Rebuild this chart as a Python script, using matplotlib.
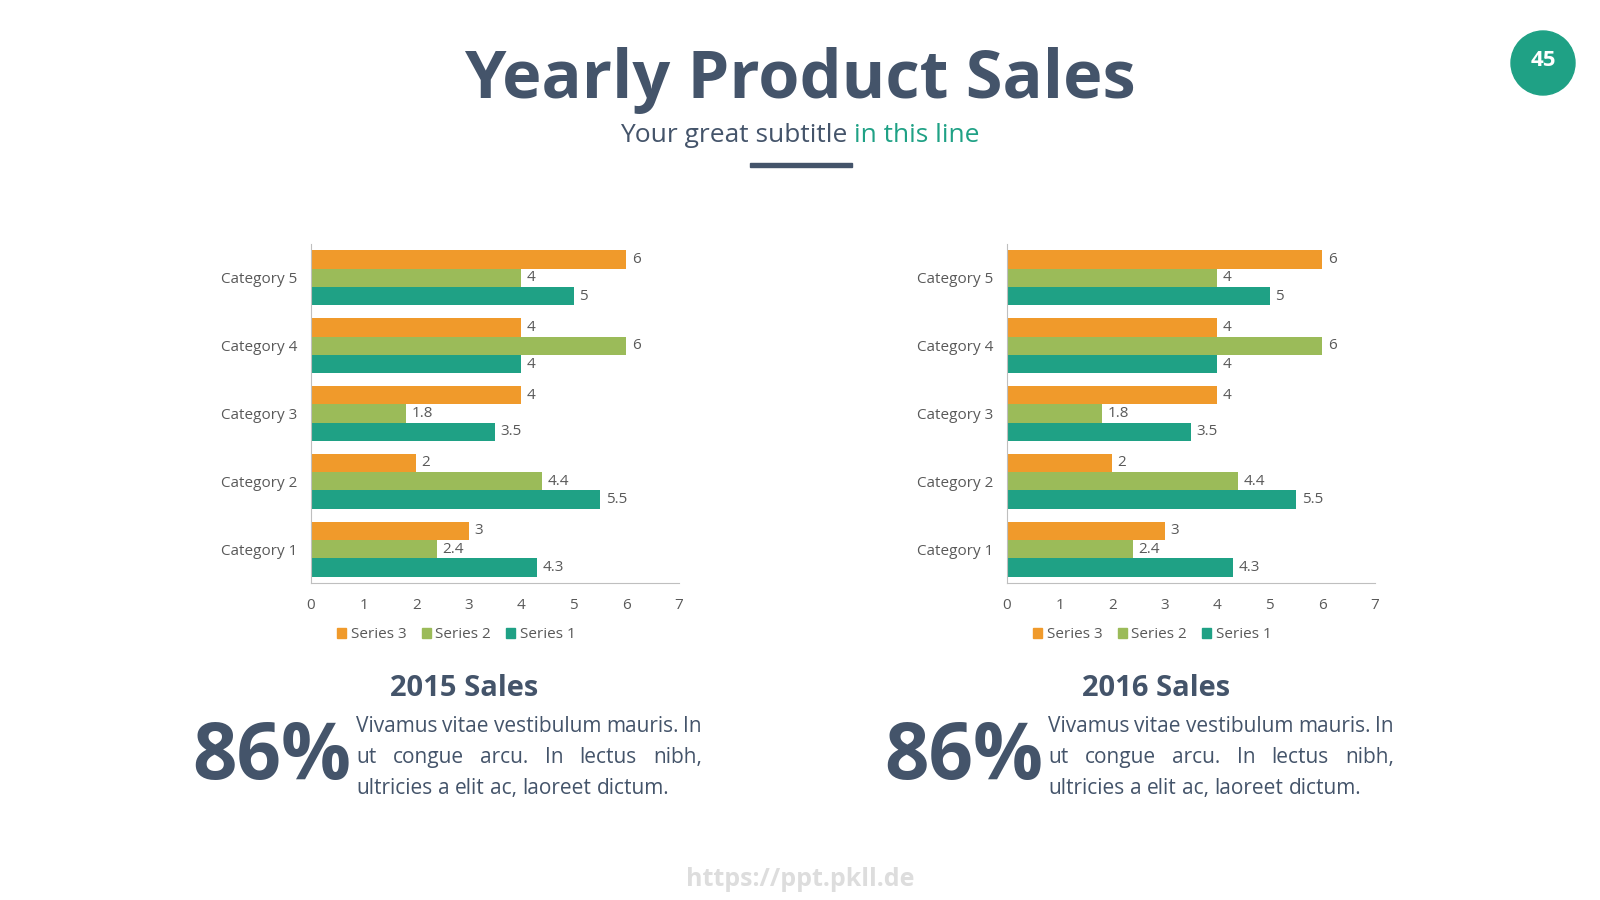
import numpy as np
import matplotlib
matplotlib.use("Agg")
import matplotlib.pyplot as plt
from matplotlib.patches import Circle, Rectangle

plt.rcParams['font.family'] = ['Open Sans', 'DejaVu Sans']

# data
categories = ['Category 1', 'Category 2', 'Category 3', 'Category 4', 'Category 5']
series1 = [4.3, 5.5, 3.5, 4, 5]
series2 = [2.4, 4.4, 1.8, 6, 4]
series3 = [3, 2, 4, 4, 6]
series_names = ['Series 1', 'Series 2', 'Series 3']
xticks = [0, 1, 2, 3, 4, 5, 6, 7]
panel_titles = ['2015 Sales', '2016 Sales']
panel_pct = ['86%', '86%']
body_lines = [['Vivamus', 'vitae', 'vestibulum', 'mauris.', 'In'],
              ['ut', 'congue', 'arcu.', 'In', 'lectus', 'nibh,'],
              ['ultricies', 'a', 'elit', 'ac,', 'laoreet', 'dictum.']]

DARK = '#44546A'
TEAL = '#1FA185'
GREEN = '#9BBB59'
ORANGE = '#F09A2B'
GRAY = '#595959'

W, H = 1600, 900
fig = plt.figure(figsize=(16, 9), dpi=100)
fig.patch.set_facecolor('white')


def fx(px):
    return px / W


def fy(py):
    return 1 - py / H


# header
fig.text(fx(800), fy(80), 'Yearly Product Sales', ha='center', va='center',
         fontsize=48, fontweight='bold', color=DARK)
t1 = fig.text(fx(800), fy(136), 'Your great subtitle ', ha='right', va='center',
              fontsize=19, color=DARK)
fig.canvas.draw()
r = fig.canvas.get_renderer()
w1 = t1.get_window_extent(r).width
t2 = fig.text(fx(800), fy(136), 'in this line', ha='left', va='center',
              fontsize=19, color=TEAL)
w2 = t2.get_window_extent(r).width
shift = (w1 - w2) / 2
t1.set_x(fx(800 + shift))
t2.set_x(fx(800 + shift))
fig.patches.append(Rectangle((fx(750), fy(167)), fx(102), 4 / H, transform=fig.transFigure,
                             color=DARK, figure=fig))

# page number badge
badge = Circle((15.43, (H - 63) / 100), 0.32, transform=fig.dpi_scale_trans,
               color=TEAL, figure=fig)
fig.patches.append(badge)
fig.text(fx(1543), fy(61), '45', ha='center', va='center', fontsize=16,
         fontweight='bold', color='white')


def draw_chart(left_px):
    ax = fig.add_axes([fx(left_px), fy(583), fx(368), 339 / H])
    y = np.arange(len(categories))
    h = 0.27
    for vals, off, col in [(series1, -h, TEAL), (series2, 0, GREEN), (series3, h, ORANGE)]:
        bars = ax.barh(y + off, vals, height=h, color=col)
        for b, v in zip(bars, vals):
            ax.annotate(f'{v:g}', (v, b.get_y() + h / 2), xytext=(4, 0),
                        textcoords='offset points', ha='left', va='center',
                        fontsize=11, color=GRAY,
                        bbox=dict(boxstyle='square,pad=0.05', fc='white', ec='none'))
    ax.set_xlim(0, 7)
    ax.set_ylim(-0.5, 4.5)
    ax.set_xticks(xticks)
    ax.set_yticks(y)
    ax.set_yticklabels(categories)
    ax.tick_params(length=0, labelsize=11, colors=GRAY)
    ax.tick_params(axis='x', pad=11)
    ax.tick_params(axis='y', pad=10)
    for s in ['top', 'right']:
        ax.spines[s].set_visible(False)
    for s in ['left', 'bottom']:
        ax.spines[s].set_color('#BFBFBF')
    handles = [Rectangle((0, 0), 1, 1, color=c) for c in [ORANGE, GREEN, TEAL]]
    ax.legend(handles, series_names[::-1], loc='upper center', bbox_to_anchor=(0.395, -0.09),
              ncol=3, frameon=False, fontsize=11, handlelength=0.6, handleheight=0.6,
              handletextpad=0.3, columnspacing=1.0, labelcolor=GRAY)


def draw_justified(x0, x1, y0, lines, step):
    for i, words in enumerate(lines):
        yy = y0 + i * step
        texts = [fig.text(0, fy(yy), w, ha='left', va='center', fontsize=15, color=DARK)
                 for w in words]
        widths = [t.get_window_extent(r).width for t in texts]
        if i < len(lines) - 1:
            gap = (x1 - x0 - sum(widths)) / (len(words) - 1)
        else:
            sp = fig.text(0, 0, 'a a', fontsize=15)
            sp2 = fig.text(0, 0, 'aa', fontsize=15)
            gap = sp.get_window_extent(r).width - sp2.get_window_extent(r).width
            sp.remove()
            sp2.remove()
        x = x0
        for t, w in zip(texts, widths):
            t.set_x(fx(x))
            x += w + gap


def draw_panel(chart_left, title_x, pct_x, text_x0, text_x1, title, pct):
    draw_chart(chart_left)
    fig.text(fx(title_x), fy(689), title, ha='center', va='center', fontsize=21,
             fontweight='bold', color=DARK)
    fig.text(fx(pct_x), fy(759), pct, ha='left', va='center', fontsize=56,
             fontweight='bold', color=DARK)
    draw_justified(text_x0, text_x1, 727, body_lines, 30.8)


draw_panel(311, 464, 192, 356, 702, panel_titles[0], panel_pct[0])
draw_panel(1007, 1156, 884, 1048, 1394, panel_titles[1], panel_pct[1])

# watermark
fig.text(fx(800), fy(879), 'https://ppt.pkll.de', ha='center', va='center',
         fontsize=18, fontweight='bold', color='#DDDDDD')

fig.savefig('out.png', dpi=100, facecolor='white')
